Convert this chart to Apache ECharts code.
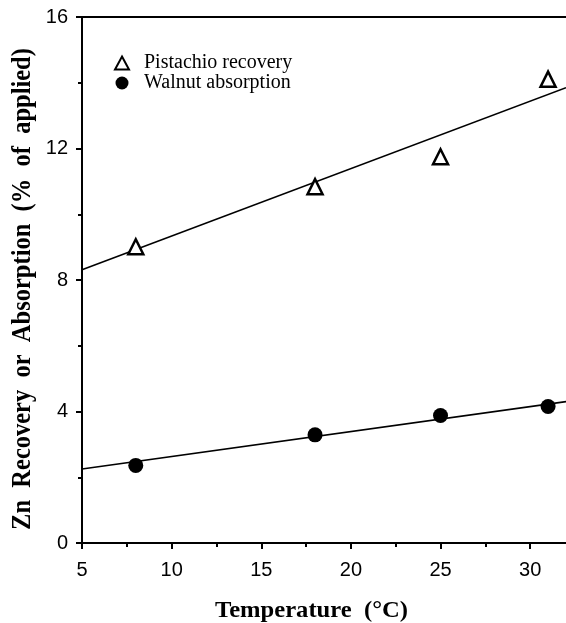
<!DOCTYPE html>
<html>
<head>
<meta charset="utf-8">
<script src="https://cdn.jsdelivr.net/npm/echarts@6/dist/echarts.min.js"></script>
<style>html,body{margin:0;padding:0;background:#fff}#c{width:566px;height:623px}</style>
</head>
<body>
<div id="c"></div>
<script>
var temperature = [8, 18, 25, 31];
var pistachioRecovery = [9.01, 10.84, 11.75, 14.11];
var walnutAbsorption = [2.36, 3.29, 3.88, 4.15];
var pistachioFit = [[5, 8.31], [32, 13.85]];
var walnutFit = [[5, 2.25], [32, 4.30]];
var xMajorTicks = [5, 10, 15, 20, 25, 30];
var xMinorTicks = [7.5, 12.5, 17.5, 22.5, 27.5];
var yTicks = [0, 4, 8, 12, 16];

function pairs(xs, ys) { return xs.map(function (x, i) { return [x, ys[i]]; }); }

var chart = echarts.init(document.getElementById('c'), null, {renderer: 'canvas'});
var sans = 'Liberation Sans, Arial, sans-serif';
var serif = 'Liberation Serif, Times New Roman, serif';
chart.setOption({
  animation: false,
  backgroundColor: '#fff',
  grid: {left: 82, right: 0, top: 17, bottom: 80},
  legend: {
    data: ['Pistachio recovery', 'Walnut absorption'],
    orient: 'vertical', left: 109, top: 48,
    itemWidth: 14, itemHeight: 13, itemGap: 0,
    textStyle: {fontFamily: serif, fontSize: 20, lineHeight: 18, color: '#000', padding: [0, 0, 0, 10]}
  },
  xAxis: [{
    type: 'value', min: 5, max: 32, interval: 5,
    axisLine: {show: true, lineStyle: {color: '#000', width: 2}},
    axisTick: {show: true, customValues: xMajorTicks, length: 6, lineStyle: {color: '#000', width: 2}},
    axisLabel: {customValues: xMajorTicks, color: '#000', fontFamily: sans, fontSize: 20, margin: 17},
    splitLine: {show: false}
  }, {
    type: 'value', min: 5, max: 32, position: 'bottom',
    axisLine: {show: false},
    axisTick: {show: true, customValues: xMinorTicks, length: 4, lineStyle: {color: '#000', width: 2}},
    axisLabel: {show: false},
    splitLine: {show: false}
  }, {
    type: 'value', min: 5, max: 32, position: 'top',
    axisLine: {show: true, lineStyle: {color: '#000', width: 2}},
    axisTick: {show: false}, axisLabel: {show: false}, splitLine: {show: false}
  }],
  yAxis: [{
    type: 'value', min: 0, max: 16, interval: 4,
    axisLine: {show: true, lineStyle: {color: '#000', width: 2}},
    axisTick: {show: true, length: 6, lineStyle: {color: '#000', width: 2}},
    minorTick: {show: true, splitNumber: 2, length: 4, lineStyle: {color: '#000', width: 2}},
    axisLabel: {color: '#000', fontFamily: sans, fontSize: 20, margin: 14},
    splitLine: {show: false}
  }],
  graphic: [{
    type: 'text', x: 311.5, y: 611, scaleX: 1.07,
    style: {text: 'Temperature  (°C)', font: 'bold 23px ' + serif, fill: '#000', align: 'center', verticalAlign: 'middle'}
  }, {
    type: 'text', x: 22.5, y: 289, rotation: Math.PI / 2, scaleY: 1.14,
    style: {text: 'Zn  Recovery  or  Absorption  (%  of  applied)', font: 'bold 24.5px ' + serif, fill: '#000', align: 'center', verticalAlign: 'middle'}
  }],
  series: [{
    type: 'line', data: pistachioFit, showSymbol: false, silent: true,
    lineStyle: {color: '#000', width: 1.6}, z: 1
  }, {
    type: 'line', data: walnutFit, showSymbol: false, silent: true,
    lineStyle: {color: '#000', width: 1.6}, z: 1
  }, {
    name: 'Pistachio recovery', type: 'scatter', data: pairs(temperature, pistachioRecovery),
    symbol: 'triangle', symbolSize: 15,
    itemStyle: {color: '#fff', borderColor: '#000', borderWidth: 2.5, opacity: 1}, z: 3
  }, {
    name: 'Walnut absorption', type: 'scatter', data: pairs(temperature, walnutAbsorption),
    symbol: 'circle', symbolSize: 15,
    itemStyle: {color: '#000', opacity: 1}, z: 3
  }]
});
</script>
</body>
</html>
